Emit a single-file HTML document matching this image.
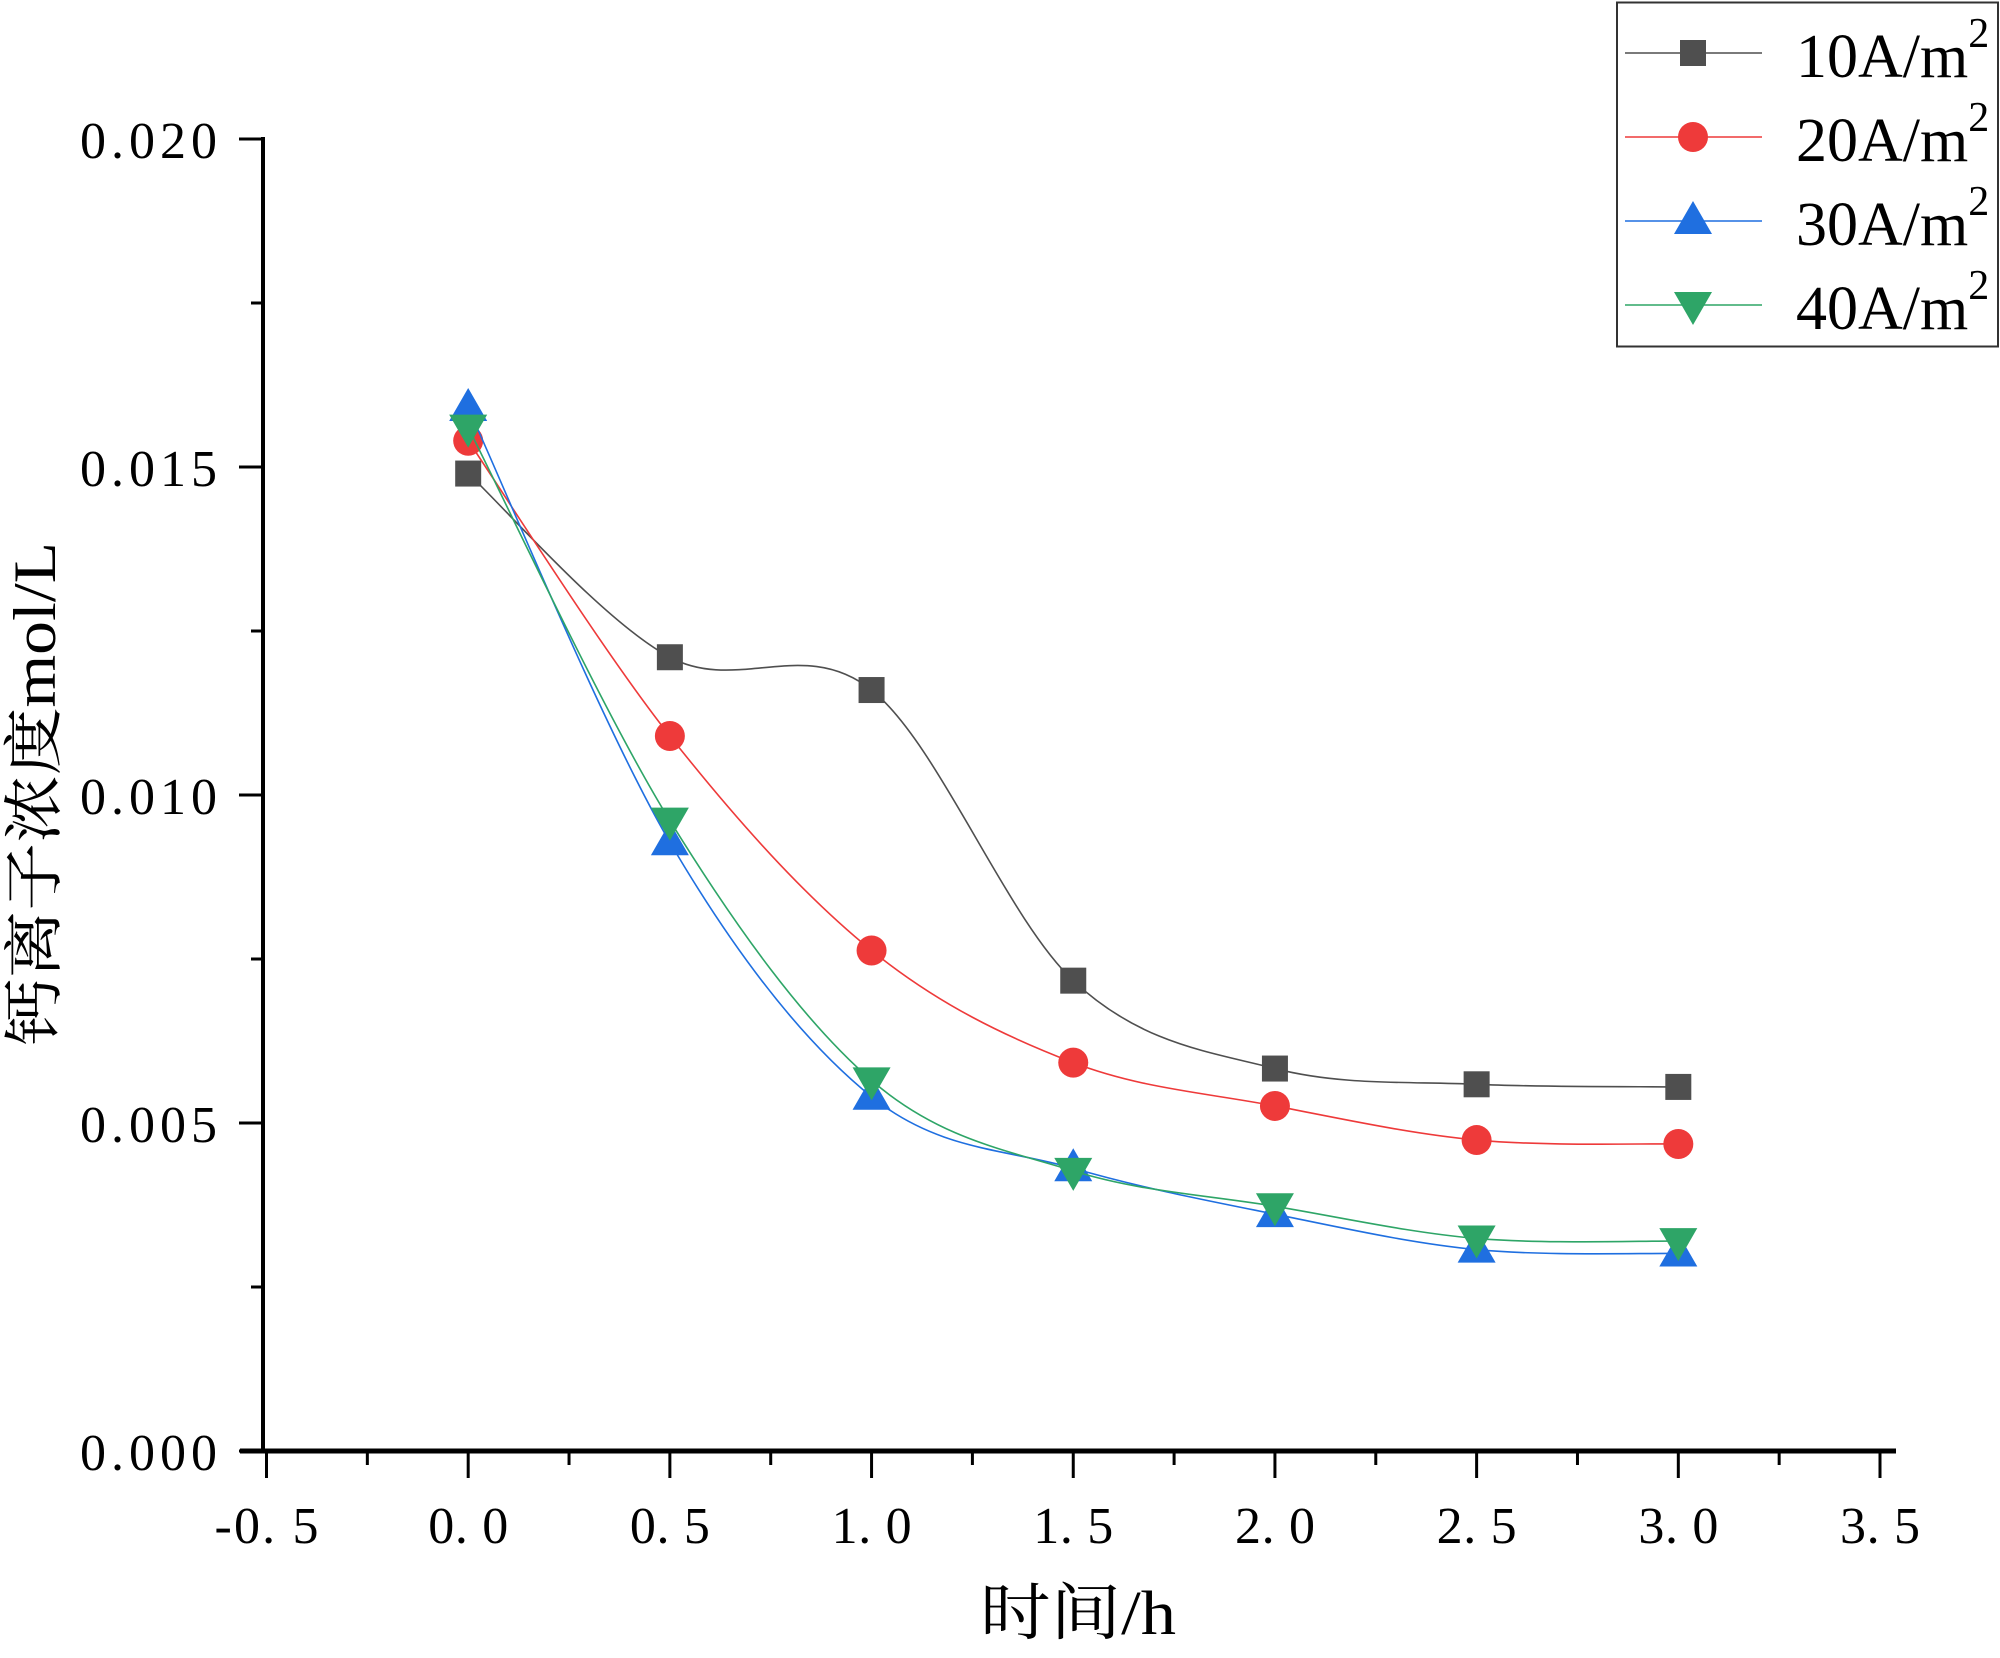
<!DOCTYPE html>
<html><head><meta charset="utf-8"><style>
html,body{margin:0;padding:0;background:#fff;}
svg{display:block;}
text{font-family:"Liberation Serif","Noto Serif CJK SC","Noto Sans CJK SC",serif;fill:#000;}
</style></head><body>
<svg id="chart" width="2000" height="1658" viewBox="0 0 2000 1658" xmlns="http://www.w3.org/2000/svg">
<g id="axes"></g><g id="series"></g><g id="legend"></g>
</svg>
<script>
const times = [0, 0.5, 1.0, 1.5, 2.0, 2.5, 3.0];
const seriesNames = ["10A/m", "20A/m", "30A/m", "40A/m"];
const s10 = [0.0149, 0.0121, 0.0116, 0.00717, 0.00583, 0.00559, 0.00555];
const s20 = [0.0154, 0.0109, 0.00763, 0.00592, 0.00526, 0.00474, 0.00468];
const s30 = [0.0159, 0.00928, 0.0054, 0.00431, 0.00361, 0.00307, 0.00301];
const s40 = [0.0156, 0.00961, 0.00565, 0.00427, 0.00373, 0.00324, 0.0032];
const xTicks = ["-0.5","0.0","0.5","1.0","1.5","2.0","2.5","3.0","3.5"];
const yTicks = ["0.000","0.005","0.010","0.015","0.020"];

const NS="http://www.w3.org/2000/svg";
const X0=266.5,X1=1880,XMIN=-0.5,XMAX=3.5;
const Y0=1451,Y1=139,YMIN=0,YMAX=0.020;
const xs=v=>X0+(v-XMIN)/(XMAX-XMIN)*(X1-X0);
const ys=v=>Y0-(v-YMIN)/(YMAX-YMIN)*(Y0-Y1);
function mk(tag,attrs,parent){const e=document.createElementNS(NS,tag);for(const k in attrs)e.setAttribute(k,attrs[k]);parent.appendChild(e);return e;}
const axes=document.getElementById('axes');
let e;
e=mk('line',{x1:263,y1:137,x2:263,y2:1453,stroke:'#000','stroke-width':4},axes);


e=mk('line',{x1:240,y1:1451,x2:1896,y2:1451,stroke:'#000','stroke-width':5},axes);


xTicks.forEach((t,i)=>{
  const v=parseFloat(t), x=xs(v);
  const tk=mk('line',{x1:x,y1:1451,x2:x,y2:1478,stroke:'#000','stroke-width':3},axes);
  
  
  if(i<xTicks.length-1){
    const m=mk('line',{x1:xs(v+0.25),y1:1451,x2:xs(v+0.25),y2:1465,stroke:'#000','stroke-width':3},axes);
    
    
  }
  const tl=mk('text',{x:x,y:1543,'text-anchor':'middle','font-size':52},axes);
  tl.textContent=t.split('').join(' ').replace(/ \. /,'. ').replace(/- /,'-');
  tl.setAttribute('textLength',t.length===4?104:80);
  
  
});
yTicks.forEach((t,i)=>{
  const v=parseFloat(t), y=ys(v);
  const tk=mk('line',{x1:239,y1:y,x2:263,y2:y,stroke:'#000','stroke-width':3},axes);
  
  
  if(i<yTicks.length-1){
    const m=mk('line',{x1:251,y1:ys(v+0.0025),x2:263,y2:ys(v+0.0025),stroke:'#000','stroke-width':3},axes);
    
    
  }
  const tl=mk('text',{x:80,y:y+19,'font-size':52,textLength:137,lengthAdjust:'spacing'},axes);
  tl.textContent=t;
  
  
});
e=mk('text',{x:1078,y:1634,'text-anchor':'middle','font-size':62,textLength:196,lengthAdjust:'spacingAndGlyphs'},axes);
e.textContent='时间/h';


e=mk('text',{x:0,y:0,'text-anchor':'middle','font-size':60,textLength:504,lengthAdjust:'spacingAndGlyphs',transform:'translate(55,794) rotate(-90)'},axes);
e.textContent='钙离子浓度mol/L';



const colors=['#4f4f4f','#ee3a3a','#1f6fe0','#2ea567'];
const data=[s10,s20,s30,s40];
const shapes=['square','circle','up','down'];
function marker(g,shape,x,y,c){
  let m;
  if(shape==='square') m=mk('rect',{x:x-13,y:y-13,width:26,height:26,fill:c},g);
  else if(shape==='circle') m=mk('circle',{cx:x,cy:y,r:15,fill:c},g);
  else if(shape==='up') m=mk('polygon',{points:`${x},${y-20} ${x-19},${y+13} ${x+19},${y+13}`,fill:c},g);
  else m=mk('polygon',{points:`${x},${y+20} ${x-19},${y-13} ${x+19},${y-13}`,fill:c},g);
  return m;
}
function path(pts){
  let d=`M${pts[0][0]},${pts[0][1]}`;
  for(let i=0;i<pts.length-1;i++){
    const p0=pts[Math.max(i-1,0)],p1=pts[i],p2=pts[i+1],p3=pts[Math.min(i+2,pts.length-1)];
    const c1=[p1[0]+(p2[0]-p0[0])/6,p1[1]+(p2[1]-p0[1])/6];
    const c2=[p2[0]-(p3[0]-p1[0])/6,p2[1]-(p3[1]-p1[1])/6];
    d+=` C${c1[0]},${c1[1]} ${c2[0]},${c2[1]} ${p2[0]},${p2[1]}`;
  }
  return d;
}
const sg=document.getElementById('series');
data.forEach((arr,si)=>{
  const g=mk('g',{},sg);
  
  
  const pts=arr.map((v,i)=>[xs(times[i]),ys(v)]);
  const p=mk('path',{d:path(pts),fill:'none',stroke:colors[si],'stroke-width':1.6},g);
  
  
  pts.forEach(pt=>{
    const m=marker(g,shapes[si],pt[0],pt[1],colors[si]);
    
    
  });
});
const lg=document.getElementById('legend');
e=mk('rect',{x:1617,y:2.5,width:381,height:344,fill:'#fff',stroke:'#333','stroke-width':2},lg);


seriesNames.forEach((n,i)=>{
  const y=53+i*84;
  const g=mk('g',{},lg);
  
  
  mk('line',{x1:1625,y1:y,x2:1762,y2:y,stroke:colors[i],'stroke-width':1.6},g);
  marker(g,shapes[i],1693,y,colors[i]);
  const t=mk('text',{x:1796,y:y+24,'font-size':62},g);
  t.textContent=n;
  const s=mk('tspan',{dy:-30,'font-size':42},t);
  s.textContent='2';
});
</script>
</body></html>
